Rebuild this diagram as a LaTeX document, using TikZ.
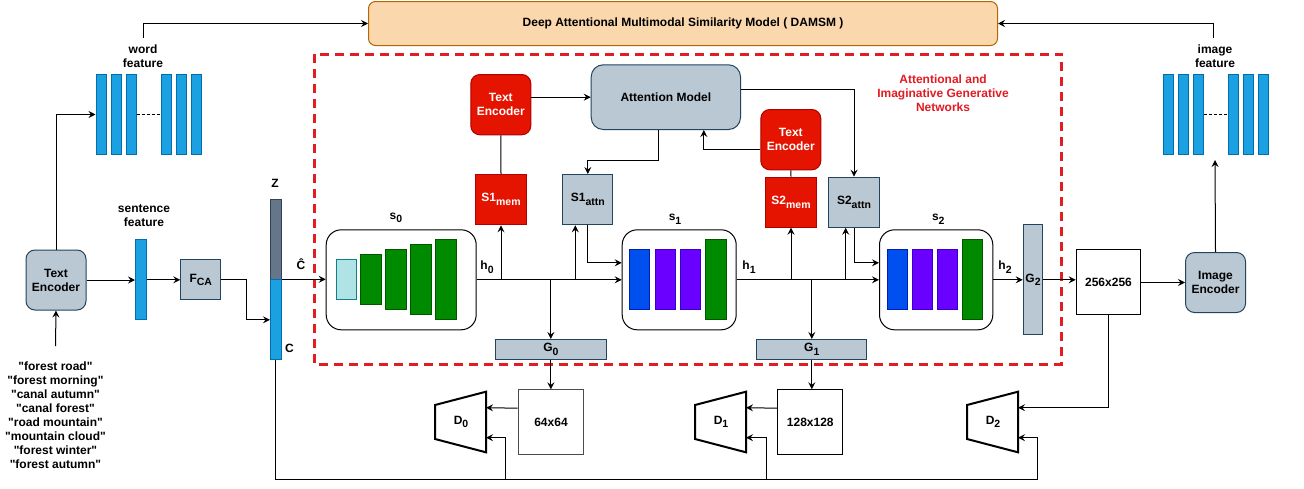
\documentclass[tikz,border=0pt]{standalone}
\usepackage{fontspec}
\setmainfont{Liberation Sans}[Ligatures=TeXOff]
\usetikzlibrary{arrows.meta,calc}
\definecolor{gfill}{HTML}{BAC8D3}\definecolor{gdraw}{HTML}{23445D}
\definecolor{rfill}{HTML}{E51400}\definecolor{rdraw}{HTML}{B20000}
\definecolor{orfill}{HTML}{FAD7AC}\definecolor{ordraw}{HTML}{B46504}
\definecolor{bfill}{HTML}{1BA1E2}\definecolor{bdraw}{HTML}{006EAF}
\definecolor{zfill}{HTML}{647687}\definecolor{zdraw}{HTML}{314354}
\definecolor{grfill}{HTML}{008A00}\definecolor{grdraw}{HTML}{005700}
\definecolor{blfill}{HTML}{0050EF}\definecolor{bldraw}{HTML}{001DBC}
\definecolor{pufill}{HTML}{6A00FF}\definecolor{pudraw}{HTML}{3700CC}
\definecolor{cyfill}{HTML}{B0E3E6}\definecolor{cydraw}{HTML}{0E8088}
\definecolor{redd}{HTML}{E31B23}
\newcommand\sbs[1]{\raisebox{-0.3em}{\fontsize{10.5}{10.5}\selectfont #1}}
\newcommand\Dshape[3]{%
  \draw[dshape] (#2,405) -- ({#2+51},391.7) -- ({#2+51},452.3) -- (#2,439) -- cycle;
  \node[lbl] (#1) at ({#2+26},422) {#3};
  \coordinate (#1a) at ({#2+51},407.7);
  \coordinate (#1b) at ({#2+51},437.7);
}
\tikzset{
  ln/.style={line width=1pt, draw=black},
  arr/.style={ln, -{Stealth[length=7pt,width=7pt,inset=2.5pt]}},
  bx/.style={draw, line width=1pt, inner sep=0pt, align=center, anchor=north west},
  gbox/.style={bx, fill=gfill, draw=gdraw},
  rbox/.style={bx, fill=rfill, draw=rdraw, text=white},
  feat/.style={bx, fill=bfill, draw=bdraw},
  grn/.style={bx, fill=grfill, draw=grdraw},
  blu/.style={bx, fill=blfill, draw=bldraw},
  pur/.style={bx, fill=pufill, draw=pudraw},
  cyn/.style={bx, fill=cyfill, draw=cydraw},
  wbox/.style={bx, draw=black, fill=white},
  sblock/.style={bx, draw=black, fill=white, rounded corners=15pt},
  lbl/.style={inner sep=0pt, align=center},
  dshape/.style={line width=2pt, draw=black, line join=miter},
  sz/.style 2 args={minimum width=#1pt, minimum height=#2pt},
}
\begin{document}
\begin{tikzpicture}[x=1pt,y=-1pt, font=\bfseries\fontsize{12}{14}\selectfont]
\useasboundingbox (0,0) rectangle (1304,488);
\fill[white] (0,0) rectangle (1304,488);

% DAMSM
\node[bx, fill=orfill, draw=ordraw, rounded corners=7pt, sz={629}{44}] (damsm) at (368,1) {Deep Attentional Multimodal Similarity Model ( DAMSM )};

% red region
\draw[draw=redd, line width=3pt, dash pattern=on 9pt off 6pt] (314,54.3) rectangle (1061.7,364);
\node[lbl, text=redd] (agnlbl) at (943,93) {Attentional and\\Imaginative Generative\\Networks};

% word features
\foreach \i/\x in {1/95.5,2/110.5,3/125.5,4/160.5,5/175.5,6/190.5}
  \node[feat, sz={10}{80}] (wb\i) at (\x,74) {};
\draw[line width=0.8pt, dash pattern=on 3pt off 2pt] (wb3.east) -- (wb4.west);
\node[lbl] (wflbl) at (143,56) {word\\feature};
\coordinate (wftop) at (143,38);
\draw[arr] (wftop) |- (damsm.west);

% image features
\foreach \i/\x in {1/1163,2/1178,3/1193,4/1228,5/1243,6/1258}
  \node[feat, sz={10}{80}] (ib\i) at (\x,74) {};
\draw[line width=0.8pt, dash pattern=on 3pt off 2pt] (ib3.east) -- (ib4.west);
\node[lbl] (iflbl) at (1215,56) {image\\feature};
\coordinate (iftop) at (1213.5,38);
\draw[arr] (iftop) |- (damsm.east);
\coordinate (ifbot) at (1215,160);

% left text encoder and captions
\node[gbox, rounded corners=9pt, sz={60}{60}] (te) at (25.5,249.5) {Text\\Encoder};
\node[lbl] (cap) at (55.5,415.7) {"forest road"\\"forest morning"\\"canal autumn"\\"canal forest"\\"road mountain"\\"mountain cloud"\\"forest winter"\\"forest autumn"};
\coordinate (captop) at (55.5,346);
\draw[arr] (captop) -- (te.south);
\draw[arr] (te.north) |- (wb1.west);

% sentence feature, FCA, Z/C
\node[feat, sz={10.7}{80}] (sb) at (135,239.3) {};
\node[lbl] (sblbl) at (144,216) {sentence\\feature};
\draw[arr] (te.east) -- (te.east -| sb.west);
\node[gbox, sz={40}{40}] (fca) at (180.3,259.3) {F\sbs{CA}};
\draw[arr] (sb.east) -- (fca.west);
\node[bx, fill=zfill, draw=zdraw, sz={10.7}{80}] (zb) at (270,199.3) {};
\node[feat, sz={10.7}{80}] (cb) at (270,279.3) {};
\draw[arr] (fca.east) -- ++(25.4,0) |- (cb.west);
\node[lbl] (zl) at (275,183.5) {Z};
\node[lbl] (cl) at (289.5,348.5) {C};
\node[lbl] (chat) at (301,264) {Ĉ};

% stage blocks
\node[sblock, sz={150}{100}] (s0) at (325.7,229.3) {};
\node[lbl] (s0l) at (396,218) {s\sbs{0}};
\node[cyn, sz={20}{40}] (s0a) at (335.7,259.3) {};
\node[grn, sz={20.4}{50}] (s0b) at (360.3,254.3) {};
\node[grn, sz={20.4}{60}] (s0c) at (385.3,249.3) {};
\node[grn, sz={20.4}{70}] (s0d) at (410.3,244.3) {};
\node[grn, sz={20.4}{80}] (s0e) at (435.3,239.3) {};
\node[lbl] (h0) at (487,267) {h\sbs{0}};

\node[sblock, sz={114}{100}] (s1) at (621.7,229.3) {};
\node[lbl] (s1l) at (675,219) {s\sbs{1}};
\node[blu, sz={20}{60}] (s1b1) at (629.3,249.3) {};
\node[pur, sz={20}{60}] (s1b2) at (655.3,249.3) {};
\node[pur, sz={20}{60}] (s1b3) at (680.3,249.3) {};
\node[grn, sz={20.4}{80}] (s1b4) at (705.3,239.3) {};
\node[lbl] (h1) at (749,267) {h\sbs{1}};

\node[sblock, sz={113.3}{100}] (s2) at (879,229.3) {};
\node[lbl] (s2l) at (938.3,219) {s\sbs{2}};
\node[blu, sz={20}{60}] (s2b1) at (886.7,249.3) {};
\node[pur, sz={20}{60}] (s2b2) at (912.3,249.3) {};
\node[pur, sz={20}{60}] (s2b3) at (937.3,249.3) {};
\node[grn, sz={20}{80}] (s2b4) at (962.3,239.3) {};
\node[lbl] (h2) at (1005,267) {h\sbs{2}};

% attention part
\node[rbox, rounded corners=9pt, sz={60}{60.3}] (te1) at (470.3,74) {Text\\Encoder};
\node[rbox, sz={50.4}{50.3}] (s1m) at (475.3,174) {S1\sbs{mem}};
\node[gbox, rounded corners=12pt, sz={149.3}{64.7}] (am) at (590.7,64.3) {Attention Model};
\node[gbox, sz={50}{50.3}] (s1a) at (562.3,174) {S1\sbs{attn}};
\node[rbox, rounded corners=9pt, sz={60}{60.3}] (te2) at (760.3,109) {Text\\Encoder};
\node[rbox, sz={50.4}{50}] (s2m) at (765.3,176.7) {S2\sbs{mem}};
\node[gbox, sz={50.4}{50}] (s2a) at (828.3,176.7) {S2\sbs{attn}};

\draw[arr] (am.west -| te1.east) -- (am.west);
\draw[ln] (te1.south) -- (s1m.north);
\draw[ln] (te2.south) -- (s2m.north);
\draw[arr] ($(am.south)+(-7,0)$) -- ++(0,30.3) -| (s1a.north);
\draw[arr] ($(am.east)+(0,-7.4)$) -| (s2a.north);
\draw[arr] ($(te2.west)+(0,10.1)$) -| ($(am.south)+(38,0)$);

% generators
\node[gbox, sz={110.7}{20}] (g0) at (495,339) {G\sbs{0}};
\node[gbox, sz={110}{20}] (g1) at (756.3,339) {G\sbs{1}};
\node[gbox, sz={19.6}{110}] (g2) at (1022.7,224.3) {G\sbs{2}};

% h0 connections
\draw[arr] (s0.east) -- (s1.west);
\draw[arr] (s0.east -| s1m.south) -- (s1m.south);
\coordinate (bp1) at (575.3,279.3);
\draw[arr] (bp1) -- (bp1 |- s1a.south);
\draw[arr] (s0.east -| g0.north) -- (g0.north);
\draw[arr] (s1a.south) |- ($(s1.west)+(0,-17)$);

% h1 connections
\draw[arr] (s1.east) -- (s2.west);
\draw[arr] (s1.east -| s2m.south) -- (s2m.south);
\coordinate (bp2) at (845.7,279.3);
\draw[arr] (bp2) -- (bp2 |- s2a.south);
\draw[arr] (s1.east -| g1.north) -- (g1.north);
\draw[arr] (s2a.south) |- ($(s2.west)+(0,-17)$);

% cbar -> s0
\draw[arr] (cb.north east) -- (cb.north east -| s0.west);

% outputs
\draw[arr] (s2.east) -- (g2.west);
\node[wbox, sz={64.6}{64.7}] (b256) at (1075.7,249.3) {256x256};
\node[gbox, rounded corners=9pt, sz={60}{60}] (ie) at (1185,252) {Image\\Encoder};
\draw[arr] (g2.east) -- (g2.east -| b256.west);
\draw[arr] (b256.east |- ie.west) -- (ie.west);
\draw[arr] (ie.north) -- (ifbot);

\node[wbox, draw=black!70, sz={65.6}{65}] (b64) at (517.7,389.3) {64x64};
\node[wbox, sz={65}{65}] (b128) at (777.3,389.3) {128x128};
\draw[arr] (g0.south) -- (g0.south |- b64.north);
\draw[arr] (g1.south) -- (g1.south |- b128.north);

% discriminators
\Dshape{d0}{435}{D\sbs{0}}
\Dshape{d1}{695}{D\sbs{1}}
\Dshape{d2}{967}{D\sbs{2}}

\draw[arr] ($(b64.west)+(0,-14.1)$) -- (d0a);
\draw[arr] ($(b128.west)+(0,-14.1)$) -- (d1a);
\draw[arr] (b256.south) |- (d2a);

\coordinate (k2) at (1037.7,479);
\coordinate (k0) at (505.7,479);
\coordinate (k1) at (766,479);
\draw[arr] (cb.south) |- (k2) |- (d2b);
\draw[arr] (k0) |- (d0b);
\draw[arr] (k1) |- (d1b);
\end{tikzpicture}
\end{document}
